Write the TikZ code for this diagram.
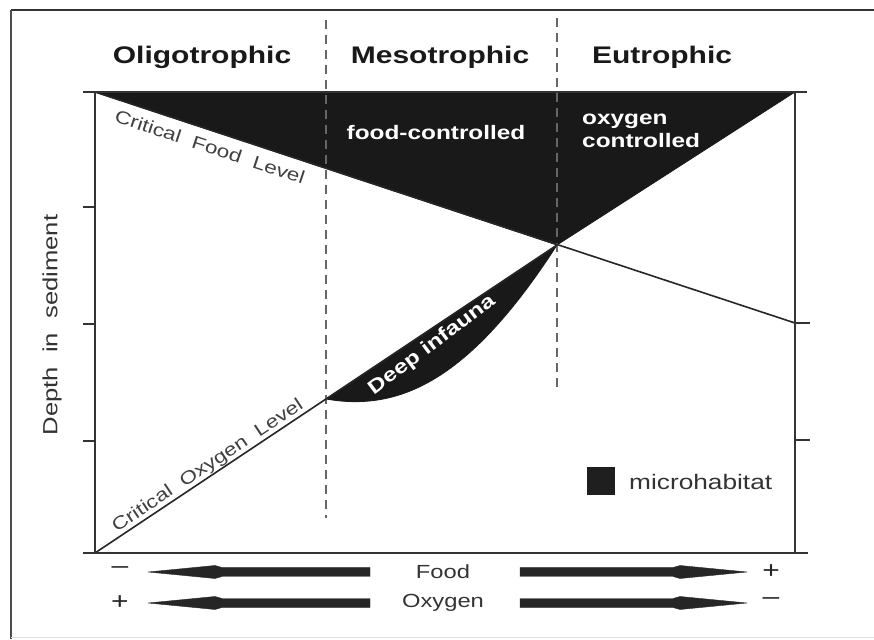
\documentclass[tikz,border=0pt]{standalone}
\usepackage{fontspec}
\setmainfont{Liberation Sans}[FakeStretch=1.25]
\begin{document}
\begin{tikzpicture}[x=1pt,y=1pt,
  frame/.style={draw=black!80, line width=2.2pt},
  axis/.style={draw=black!80, line width=1.8pt},
  tick/.style={draw=black!80, line width=1.5pt},
  divider/.style={draw=black!60, line width=1.8pt, dash pattern=on 9pt off 6pt},
  lvlline/.style={draw=black!85, line width=1.6pt},
  blackfill/.style={fill=black!90, draw=black!90, line width=0.8pt},
  hdr/.style={font=\bfseries\fontsize{24}{24}\selectfont, text=black!90, inner sep=0pt},
  wtxt/.style={font=\bfseries\fontsize{19.5}{23}\selectfont, text=white, inner sep=0pt},
  lvl/.style={font=\fontsize{18}{18}\selectfont, text=black!75, inner sep=0pt},
  plain/.style={font=\fontsize{19}{19}\selectfont, text=black!80, inner sep=0pt},
  sign/.style={font=\fontsize{24}{24}\selectfont, text=black!85, inner sep=0pt},
  fatarrow/.style={fill=black!85, draw=black!85, line width=0.4pt}
]
\useasboundingbox (0,0) rectangle (874,639);
% outer frame
\draw[frame] (11,629) -- (874,629);
\draw[draw=black!70, line width=2pt] (11,629) -- (11,0);
\draw[draw=black!12, line width=1pt] (11,2) -- (874,2);

% key coordinates
\coordinate (TL) at (95,547);
\coordinate (TR) at (795,547);
\coordinate (BL) at (95,86);
\coordinate (BR) at (795,86);
\coordinate (P) at (557,394);
\coordinate (FE) at (795,316);
\coordinate (OX) at (326,240);

% black regions
\fill[blackfill] (TL) -- (TR) -- (P) -- cycle;
\fill[blackfill] (OX) -- (P) .. controls (470,259) and (400,227) .. (OX) -- cycle;

% dividers
\draw[divider] (326,619) -- (326,121);
\draw[divider] (557,621) -- (557,251);

% level lines
\draw[lvlline] (TL) -- (FE);
\draw[lvlline] (BL) -- (P);

% axes
\draw[axis] (83,547) -- (807,547);
\draw[axis] (83,86) -- (808,86);
\draw[axis] (TL) -- (BL);
\draw[axis] (TR) -- (BR);
\draw[tick] (83,432) -- (95,432);
\draw[tick] (83,315) -- (95,315);
\draw[tick] (83,198) -- (95,198);
\draw[tick] (795,316) -- (810,316);
\draw[tick] (795,199) -- (810,199);

% headings
\node[hdr] (oli) at (202,582) {Oligotrophic};
\node[hdr] (meso) at (440,582) {Mesotrophic};
\node[hdr] (eu) at (662,582) {Eutrophic};

% region labels
\node[wtxt] (food) at (436,506) {food-controlled};
\node[wtxt, align=left, anchor=west] (oxc) at (582,508) {oxygen\\controlled};
\node[wtxt, rotate=37] (deep) at (432,294) {Deep infauna};

\node[lvl, rotate=-18.3] (cfl) at (210,492) {Critical\ \ Food\ \ Level};
\node[lvl, rotate=33.7] (col) at (208,173) {Critical\ \ Oxygen\ \ Level};

\node[plain, font=\fontsize{20.5}{20.5}\selectfont, rotate=90] (depth) at (52,314) {Depth\ \ in\ \ sediment};

% legend
\node[fill=black!88, minimum size=28pt, inner sep=0pt] (leg) at (601,158) {};
\node[plain, font=\fontsize{21}{21}\selectfont, anchor=west] (micro) at (629,157) {microhabitat};

% bottom arrows
\node[plain] (foodl) at (443,67) {Food};
\node[plain] (oxyl) at (443,36) {Oxygen};
\node[sign] (s1) at (120,69) {\textendash};
\node[sign] (s2) at (120,36) {+};
\node[sign] (s3) at (771,67) {+};
\node[sign] (s4) at (771,38) {\textendash};

\foreach \yy in {67,36}{
  \fill[fatarrow] (370,\yy+4.5) -- (222,\yy+4.5) -- (215,\yy+6.5) -- (148,\yy) -- (215,\yy-6.5) -- (222,\yy-4.5) -- (370,\yy-4.5) -- cycle;
  \fill[fatarrow] (520,\yy+4.5) -- (673,\yy+4.5) -- (680,\yy+6.5) -- (747,\yy) -- (680,\yy-6.5) -- (673,\yy-4.5) -- (520,\yy-4.5) -- cycle;
}
\end{tikzpicture}
\end{document}
